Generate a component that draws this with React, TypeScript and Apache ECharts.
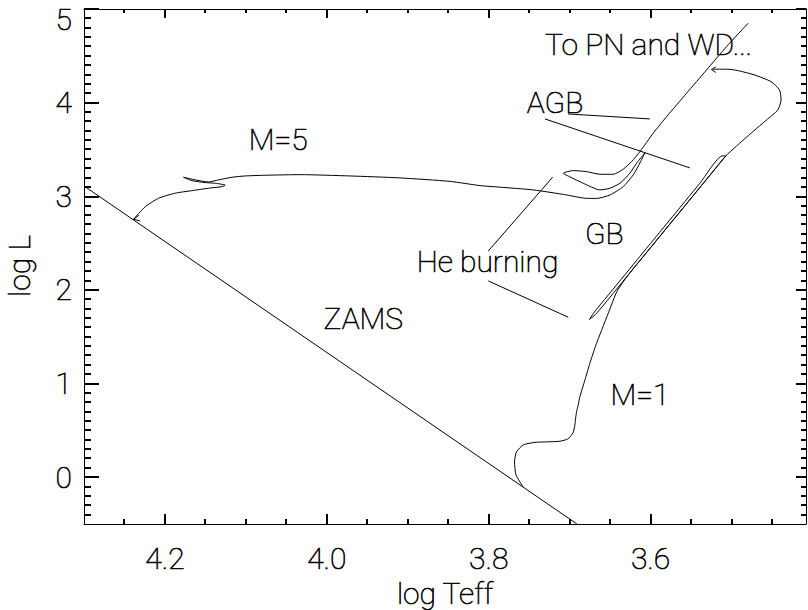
import React, { useEffect, useRef } from "react";
import * as echarts from "echarts";

// ---- axis ticks / labels ----
const xMajorTicks = [4.2, 4.0, 3.8, 3.6];
const xMinorTicks = [4.25, 4.15, 4.1, 4.05, 3.95, 3.9, 3.85, 3.75, 3.7, 3.65, 3.55, 3.5, 3.45];
const yMajorTicks = [0, 1, 2, 3, 4, 5];
const yMinorTicks: number[] = [];
for (let i = -4; i <= 49; i++) {
  if (i % 10 !== 0) yMinorTicks.push(i / 10);
}

// ---- data (log Teff, log L) ----
const zams = [
  [4.3, 3.11],
  [3.691, -0.5],
];

const m5Track = [
  [4.2388, 2.755], [4.2243, 2.889], [4.2079, 2.979], [4.1873, 3.033], [4.1667, 3.06],
  [4.1462, 3.086], [4.1296, 3.103], [4.1256, 3.118], [4.1379, 3.139], [4.1502, 3.146],
  [4.1667, 3.167], [4.177, 3.203], [4.1626, 3.175], [4.1462, 3.153], [4.1338, 3.175],
  [4.1173, 3.203], [4.1009, 3.217], [4.0741, 3.225], [4.033, 3.231], [3.9712, 3.217],
  [3.9095, 3.196], [3.8478, 3.159], [3.8107, 3.114], [3.786, 3.097], [3.745, 3.068],
  [3.7037, 3.014], [3.6811, 2.979], [3.6667, 2.977], [3.6502, 3.014], [3.6338, 3.103],
  [3.6215, 3.228], [3.6132, 3.356], [3.607, 3.463],
  [3.6173, 3.353], [3.6256, 3.246], [3.6379, 3.139], [3.6502, 3.086], [3.6626, 3.068],
  [3.6832, 3.139], [3.6996, 3.207], [3.7079, 3.246],
  [3.6956, 3.274], [3.679, 3.263], [3.6626, 3.235], [3.6462, 3.235], [3.6338, 3.289],
  [3.6235, 3.37], [3.6132, 3.477], [3.5968, 3.673], [3.5802, 3.851], [3.5556, 4.1],
  [3.5309, 4.349], [3.5062, 4.598], [3.4795, 4.848],
];

const m1Track = [
  [3.7573, -0.107], [3.7663, 0.025], [3.7681, 0.163], [3.7657, 0.27], [3.7573, 0.345],
  [3.7428, 0.372], [3.7284, 0.377], [3.712, 0.384], [3.7021, 0.409], [3.6959, 0.473],
  [3.6935, 0.558], [3.6926, 0.633], [3.6914, 0.7], [3.6894, 0.772], [3.6873, 0.861],
  [3.6811, 1.039], [3.6749, 1.22], [3.6675, 1.413], [3.6589, 1.605], [3.6502, 1.797],
  [3.6416, 1.984], [3.6286, 2.149], [3.6038, 2.411], [3.579, 2.673], [3.5542, 2.934],
  [3.5294, 3.196], [3.507, 3.431],
  [3.5115, 3.431], [3.5391, 3.139], [3.5763, 2.747], [3.6132, 2.358], [3.6501, 1.968],
  [3.6688, 1.771], [3.6756, 1.685],
  [3.67, 1.722], [3.6623, 1.794], [3.6378, 2.053], [3.6014, 2.438], [3.5643, 2.828],
  [3.5269, 3.223], [3.507, 3.431], [3.4811, 3.634], [3.4568, 3.815], [3.4428, 3.922],
  [3.4388, 4.029], [3.4407, 4.136], [3.4511, 4.224], [3.4716, 4.296], [3.4922, 4.342],
  [3.5046, 4.357], [3.5231, 4.357],
];

const m5Arrow = [[4.2323, 2.796], [4.2388, 2.755], [4.2305, 2.737]];
const m1Arrow = [[3.5194, 4.381], [3.5249, 4.354], [3.5194, 4.322]];

const agbPointerA = [[3.7021, 3.879], [3.6009, 3.826]];
const agbPointerB = [[3.7305, 3.826], [3.5515, 3.303]];
const hePointerA = [[3.8005, 2.416], [3.721, 3.203]];
const hePointerB = [[3.8005, 2.096], [3.7017, 1.708]];

const labels = [
  { text: "To PN and WD...", x: 648.5, y: 44.5 },
  { text: "AGB", x: 555, y: 102.5 },
  { text: "M=5", x: 278.3, y: 139 },
  { text: "He burning", x: 487.5, y: 261.7 },
  { text: "GB", x: 604.3, y: 233.7 },
  { text: "ZAMS", x: 363.3, y: 318.7 },
  { text: "M=1", x: 640, y: 394 },
];

const X_MIN = 3.408;
const X_MAX = 4.3;
const Y_MIN = -0.5;
const Y_MAX = 5;

const FONT = "Roboto";
const FW = 100;
const FS = 30;
const TB = 0.6;
const TICK_W = 2;

export default function App() {
  const ref = useRef<HTMLDivElement>(null);
  useEffect(() => {
    if (!ref.current) return;
    const chart = echarts.init(ref.current, undefined, { renderer: "svg" });
    const black = "#000";
    const txt = {
      fontFamily: FONT,
      fontSize: FS,
      fontWeight: FW as any,
      color: black,
      textBorderColor: black,
      textBorderWidth: TB,
    };

    const xAxisDef = (pos: string, showLabel: boolean) => ({
      type: "value",
      min: X_MIN,
      max: X_MAX,
      inverse: true,
      position: pos,
      axisLine: { show: true, onZero: false, lineStyle: { color: black, width: 1 } },
      axisTick: {
        show: true,
        inside: true,
        length: pos === "bottom" ? 10 : 9,
        customValues: xMajorTicks,
        lineStyle: { color: black, width: TICK_W },
      },
      axisLabel: showLabel
        ? {
            show: true,
            customValues: xMajorTicks,
            formatter: (v: number) => v.toFixed(1),
            margin: 34,
            verticalAlign: "middle",
            ...txt,
          }
        : { show: false },
      splitLine: { show: false },
    });
    const yAxisDef = (pos: string, showLabel: boolean) => ({
      type: "value",
      min: Y_MIN,
      max: Y_MAX,
      position: pos,
      axisLine: { show: true, onZero: false, lineStyle: { color: black, width: 1 } },
      axisTick: {
        show: true,
        inside: true,
        length: pos === "left" ? 15 : 10,
        customValues: yMajorTicks,
        lineStyle: { color: black, width: TICK_W },
      },
      axisLabel: showLabel
        ? {
            show: true,
            customValues: yMajorTicks,
            formatter: (v: number) => (v === 5 ? "{t|5}" : String(v)),
            margin: 12,
            ...txt,
            rich: { t: { ...txt, padding: [21, 0, 0, 0] } },
          }
        : { show: false },
      splitLine: { show: false },
    });

    const lineSeries = (data: number[][], smooth: number | boolean) => ({
      type: "line",
      data,
      xAxisIndex: 0,
      yAxisIndex: 0,
      showSymbol: false,
      symbol: "none",
      smooth,
      lineStyle: { color: black, width: 1 },
      silent: true,
    });

    chart.setOption({
      animation: false,
      backgroundColor: "#fff",
      grid: { left: 84, top: 9, width: 722, height: 515, containLabel: false, outerBoundsMode: "none" },
      xAxis: [xAxisDef("bottom", true), xAxisDef("top", false)],
      yAxis: [yAxisDef("left", true), yAxisDef("right", false)],
      series: [
        lineSeries(zams, false),
        lineSeries(m5Track, 0.2),
        lineSeries(m1Track, 0.2),
        lineSeries(m5Arrow, false),
        lineSeries(m1Arrow, false),
        lineSeries(agbPointerA, false),
        lineSeries(agbPointerB, false),
        lineSeries(hePointerA, false),
        lineSeries(hePointerB, false),
      ],
    });

    // minor tick marks: thin filled rects placed through the chart's own scales
    const toPx = (p: number[]) =>
      (chart.convertToPixel({ xAxisIndex: 0, yAxisIndex: 0 } as any, p) as number[]) || [NaN, NaN];
    const tickEls: any[] = [];
    const rect = (x: number, y: number, w: number, h: number) => ({
      type: "rect",
      silent: true,
      z: 10,
      shape: { x, y, width: w, height: h },
      style: { fill: black },
    });
    xMinorTicks.forEach((v) => {
      const pb = toPx([v, Y_MIN]);
      const pt = toPx([v, Y_MAX]);
      const x = Math.round(pb[0]) - 1;
      tickEls.push(rect(x, Math.round(pb[1]) - 5, TICK_W, 5));
      tickEls.push(rect(x, Math.round(pt[1]), TICK_W, 4));
    });
    yMinorTicks.forEach((v) => {
      const pl = toPx([X_MAX, v]);
      const pr = toPx([X_MIN, v]);
      const y = Math.round(pl[1]) - 1;
      tickEls.push(rect(Math.round(pl[0]), y, 7, TICK_W));
      tickEls.push(rect(Math.round(pr[0]) - 5, y, 5, TICK_W));
    });

    const textStyle = {
      fill: black,
      fontFamily: FONT,
      fontSize: FS,
      fontWeight: FW,
      stroke: black,
      lineWidth: TB,
      verticalAlign: "middle",
    };

    chart.setOption({
      graphic: [
        ...tickEls,
        ...labels.map((l) => ({
          type: "text",
          x: l.x,
          y: l.y,
          silent: true,
          style: { ...textStyle, text: l.text, align: "center" },
        })),
        {
          type: "text",
          x: 445,
          y: 593,
          silent: true,
          style: { ...textStyle, text: "log Teff", align: "center" },
        },
        {
          type: "text",
          x: 19,
          y: 266,
          rotation: Math.PI / 2,
          silent: true,
          style: { ...textStyle, text: "log L", align: "center" },
        },
      ],
    });
    return () => chart.dispose();
  }, []);
  return <div ref={ref} style={{ position: "absolute", left: 0, top: 0, width: 808, height: 610 }} />;
}
